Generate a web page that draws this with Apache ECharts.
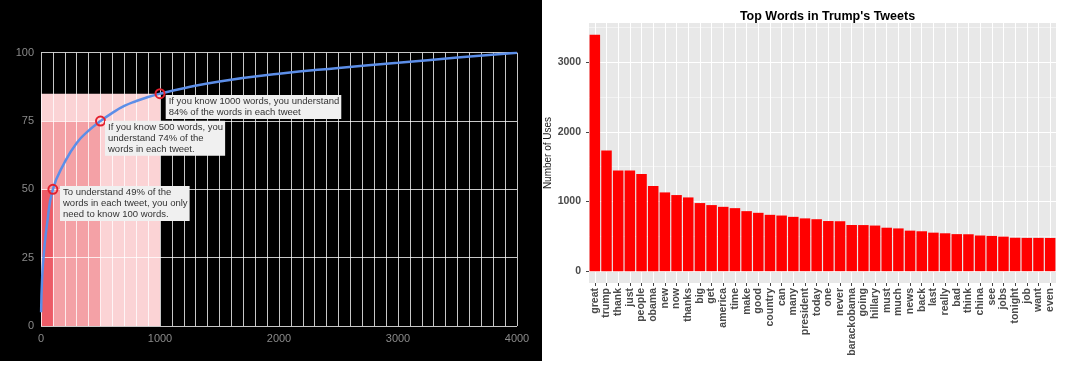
<!DOCTYPE html>
<html><head><meta charset="utf-8">
<script src="https://cdn.jsdelivr.net/npm/echarts@6/dist/echarts.min.js"></script>
<style>
html,body{margin:0;padding:0;background:#fff;}
#bg{position:absolute;left:0;top:0;width:542px;height:361px;background:#000;}
#c{position:absolute;left:0;top:0;width:1080px;height:366px;}
</style></head><body>
<div id="bg"></div><div id="c"></div>
<script>
// ---- Left chart data: cumulative coverage curve ----
const curveWords = [1, 10, 25, 50, 100, 200, 300, 400, 500, 600, 700, 800, 900, 1000, 1200, 1500, 2000, 2500, 3000, 3500, 4000];
const curvePct   = [5, 18, 27, 37, 50, 60, 67, 71.5, 75, 78, 80.5, 82.3, 83.8, 85, 87, 89.5, 92.3, 94.4, 96.3, 98.2, 100];
const noteWords = [100, 500, 1000];
const notePct   = [50, 75, 85];
const noteTexts = [
  'To understand 49% of the\nwords in each tweet, you only\nneed to know 100 words.',
  'If you know 500 words, you\nunderstand 74% of the\nwords in each tweet.',
  'If you know 1000 words, you understand\n84% of the words in each tweet'
];
const leftXTicks = [0, 1000, 2000, 3000, 4000];
const leftYTicks = [0, 25, 50, 75, 100];
const leftGridStep = 100;

// ---- Right chart data: top words ----
const words = ['great','trump','thank','just','people','obama','new','now','thanks','big','get','america','time','make','good','country','can','many','president','today','one','never','barackobama','going','hillary','must','much','news','back','last','really','bad','think','china','see','jobs','tonight','job','want','even'];
const uses  = [3394,1733,1445,1445,1396,1223,1131,1093,1059,978,949,924,905,862,838,809,799,780,758,746,720,717,663,662,655,624,614,582,573,553,544,532,530,512,506,496,480,478,478,477];
const rightYTicks = [0, 1000, 2000, 3000];
const rightYMinor = [500, 1500, 2500, 3500];

const FONT = 'Liberation Sans, Arial, sans-serif';
const shadeColors = ['#ec5c67', '#f4a1a6', '#fbd3d5'];
const labelOffsets = [[12.6, 2.2], [10, 5.2], [11.2, 6.8]];
const plain = v => String(v);

// shading rectangles, largest first
const shadeData = [];
for (let i = noteWords.length - 1; i >= 0; i--) {
  shadeData.push([{xAxis: 0, yAxis: 0, itemStyle: {color: shadeColors[i]}}, {xAxis: noteWords[i], yAxis: notePct[i]}]);
}
// left gridlines
const leftGridLines = [];
for (let v = leftXTicks[0]; v <= leftXTicks[leftXTicks.length - 1]; v += leftGridStep) leftGridLines.push({xAxis: v});
leftYTicks.forEach(v => leftGridLines.push({yAxis: v}));

// right gridlines
const rightGridLines = [];
words.forEach(w => rightGridLines.push({xAxis: w, lineStyle: {width: 1}}));
rightYTicks.forEach(v => rightGridLines.push({yAxis: v, lineStyle: {width: 1.1}}));
rightYMinor.forEach(v => rightGridLines.push({yAxis: v, lineStyle: {width: 0.5}}));

const curveData = curveWords.map((w, i) => [w, curvePct[i]]);

const chart = echarts.init(document.getElementById('c'), null, {renderer: 'canvas'});
chart.setOption({
  backgroundColor: 'transparent',
  animation: false,
  textStyle: {fontFamily: FONT},
  title: {
    text: "Top Words in Trump's Tweets",
    left: 822.5, top: 5, textAlign: 'center',
    textStyle: {fontFamily: FONT, fontSize: 12.5, fontWeight: 'bold', color: '#000'}
  },
  grid: [
    {left: 41, top: 52.7, width: 476, height: 273.3, show: false},
    {left: 589, top: 23, width: 467, height: 260, show: true, backgroundColor: '#e8e8e8', borderWidth: 0}
  ],
  xAxis: [
    {gridIndex: 0, type: 'value', min: 0, max: 4000, interval: 1000,
     axisLine: {show: false}, axisTick: {show: false}, splitLine: {show: false},
     axisLabel: {color: '#8a8a8a', fontSize: 11, margin: 7, fontFamily: FONT, formatter: plain}},
    {gridIndex: 1, type: 'category', data: words,
     axisLine: {show: false, onZero: false},
     axisTick: {show: true, alignWithLabel: true, length: 3, lineStyle: {color: '#444'}},
     splitLine: {show: false},
     axisLabel: {rotate: 90, interval: 0, margin: 5, fontSize: 10.5, fontWeight: 'bold', color: '#4a4a4a', fontFamily: FONT}}
  ],
  yAxis: [
    {gridIndex: 0, type: 'value', min: 0, max: 100, interval: 25,
     axisLine: {show: false}, axisTick: {show: false}, splitLine: {show: false},
     axisLabel: {color: '#8a8a8a', fontSize: 11, margin: 7, fontFamily: FONT, formatter: plain}},
    {gridIndex: 1, type: 'value', min: -170, max: 3564,
     name: 'Number of Uses', nameLocation: 'middle', nameGap: 30, nameRotate: 90,
     nameTextStyle: {fontSize: 10, color: '#222', fontFamily: FONT},
     axisLine: {show: false}, splitLine: {show: false},
     axisTick: {show: true, length: 3, customValues: rightYTicks, lineStyle: {color: '#444'}},
     axisLabel: {customValues: rightYTicks, margin: 8, fontSize: 10.5, fontWeight: 'bold', color: '#4a4a4a', fontFamily: FONT, formatter: plain}}
  ],
  series: [
    {
      // carrier for shading and gridlines (drawn beneath the curve)
      type: 'line', xAxisIndex: 0, yAxisIndex: 0, z: 1,
      data: curveData, showSymbol: false, silent: true,
      lineStyle: {opacity: 0, width: 0},
      markArea: {silent: true, z: 1, data: shadeData, itemStyle: {opacity: 1}},
      markLine: {silent: true, z: 2, symbol: 'none', label: {show: false},
        lineStyle: {color: 'rgba(255,255,255,0.78)', type: 'solid', width: 1},
        data: leftGridLines}
    },
    {
      type: 'line', xAxisIndex: 0, yAxisIndex: 0, z: 8,
      data: curveData,
      smooth: 0.5, showSymbol: false,
      lineStyle: {color: '#5c8ee8', width: 2.5}
    },
    {
      type: 'scatter', xAxisIndex: 0, yAxisIndex: 0, z: 9,
      symbol: 'circle', symbolSize: 9,
      itemStyle: {color: 'rgba(0,0,0,0)', borderColor: '#e3202e', borderWidth: 2, opacity: 1},
      data: noteWords.map((w, i) => ({
        value: [w, notePct[i]],
        label: {show: true, formatter: noteTexts[i], position: labelOffsets[i],
          align: 'left', verticalAlign: 'top', opacity: 1,
          backgroundColor: '#f0f0f0', padding: [1, 2, 1, 3],
          color: '#333', fontSize: 9.5, lineHeight: 11, fontFamily: FONT}
      }))
    },
    {
      type: 'bar', xAxisIndex: 1, yAxisIndex: 1, z: 2,
      data: uses, barCategoryGap: '10%',
      itemStyle: {color: '#ff0000'},
      markLine: {silent: true, z: 1, symbol: 'none', label: {show: false},
        lineStyle: {color: '#ffffff', type: 'solid', width: 1},
        data: rightGridLines}
    }
  ]
});
</script>
</body></html>
